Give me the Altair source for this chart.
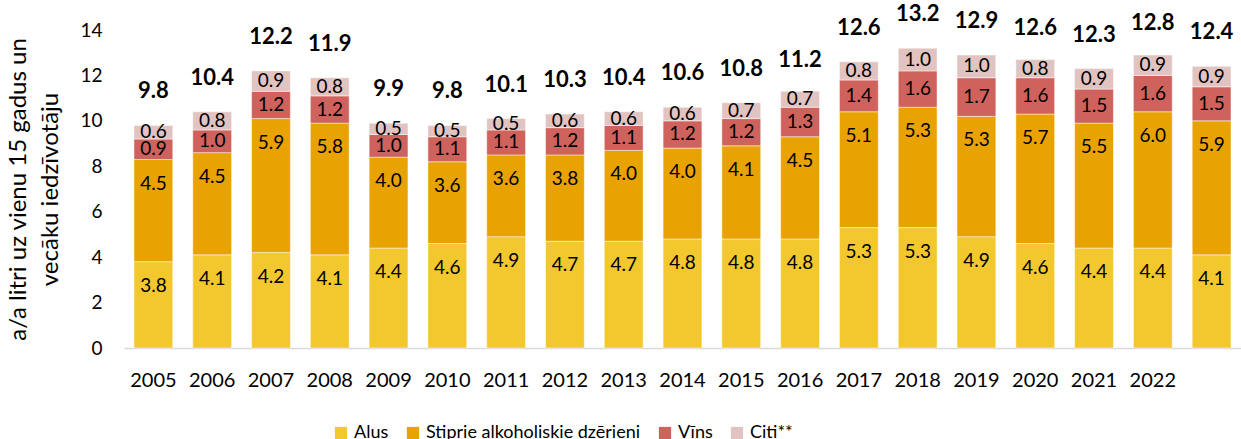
import altair as alt
import pandas as pd

years = ["2005", "2006", "2007", "2008", "2009", "2010", "2011", "2012", "2013", "2014",
         "2015", "2016", "2017", "2018", "2019", "2020", "2021", "2022", " "]
alus = [3.8, 4.1, 4.2, 4.1, 4.4, 4.6, 4.9, 4.7, 4.7, 4.8, 4.8, 4.8, 5.3, 5.3, 4.9, 4.6, 4.4, 4.4, 4.1]
stiprie = [4.5, 4.5, 5.9, 5.8, 4.0, 3.6, 3.6, 3.8, 4.0, 4.0, 4.1, 4.5, 5.1, 5.3, 5.3, 5.7, 5.5, 6.0, 5.9]
vins = [0.9, 1.0, 1.2, 1.2, 1.0, 1.1, 1.1, 1.2, 1.1, 1.2, 1.2, 1.3, 1.4, 1.6, 1.7, 1.6, 1.5, 1.6, 1.5]
citi = [0.6, 0.8, 0.9, 0.8, 0.5, 0.5, 0.5, 0.6, 0.6, 0.6, 0.7, 0.7, 0.8, 1.0, 1.0, 0.8, 0.9, 0.9, 0.9]
totals = [9.8, 10.4, 12.2, 11.9, 9.9, 9.8, 10.1, 10.3, 10.4, 10.6, 10.8, 11.2, 12.6, 13.2, 12.9, 12.6, 12.3, 12.8, 12.4]

categories = ["Alus", "Stiprie alkoholiskie dzērieni", "Vīns", "Citi**"]
colors = ["#F2C82E", "#E8A202", "#CF625C", "#E1C3C1"]
series = [alus, stiprie, vins, citi]

rows = []
for ci, (cat, vals) in enumerate(zip(categories, series)):
    for y, v in zip(years, vals):
        rows.append({"year": y, "cat": cat, "value": v, "ord": ci})
df = pd.DataFrame(rows)
tot_df = pd.DataFrame({"year": years, "total": totals})

FONT = "Lato"

x_enc = alt.X("year:N", sort=years,
              scale=alt.Scale(paddingInner=0.34, paddingOuter=0.17),
              axis=alt.Axis(title=None, labelAngle=0, labelFontSize=20, labelPadding=22,
                            labelColor="#000000", ticks=False, domainColor="#D9D9D9",
                            domainWidth=1.5, labelFont=FONT))
y_scale = alt.Scale(domain=[0, 14], nice=False)

base = alt.Chart(df).transform_stack(
    stack="value", groupby=["year"], as_=["y0", "y1"], sort=[alt.SortField("ord", order="ascending")]
)

bars = base.mark_bar(stroke="#FFFFFF", strokeWidth=0.8, strokeOpacity=0.6).encode(
    x=x_enc,
    y=alt.Y("y0:Q", scale=y_scale,
            axis=alt.Axis(title=["a/a litri uz vienu 15 gadus un", "vecāku iedzīvotāju"],
                          values=[0, 2, 4, 6, 8, 10, 12, 14], grid=False, domain=False,
                          ticks=False, labelFontSize=19, labelPadding=22, labelColor="#000000",
                          labelFont=FONT, titleFont=FONT, titleFontSize=24, titleFontWeight="normal",
                          titleColor="#000000", titleX=-94, titleLineHeight=32)),
    y2="y1:Q",
    color=alt.Color("cat:N", sort=categories,
                    scale=alt.Scale(domain=categories, range=colors),
                    legend=alt.Legend(title=None, orient="none", direction="horizontal",
                                      legendX=208, legendY=394, columns=4, padding=0,
                                      symbolType="square", symbolSize=150, symbolStrokeWidth=0,
                                      labelFontSize=18, labelFont=FONT, labelColor="#000000",
                                      labelLimit=400,
                                      labelOffset=4, columnPadding=15, symbolOpacity=1)),
)

seg_labels = base.transform_calculate(
    ly="datum.y1 - min(1.06, (datum.y1 - datum.y0) / 2)"
).mark_text(font=FONT, fontSize=19, color="#000000", baseline="middle").encode(
    x=alt.X("year:N", sort=years),
    y=alt.Y("ly:Q", scale=y_scale),
    text=alt.Text("value:Q", format=".1f"),
)

tot_labels = alt.Chart(tot_df).mark_text(
    font=FONT, fontSize=22, fontWeight="bold", color="#000000", baseline="middle", dy=-34
).encode(
    x=alt.X("year:N", sort=years),
    y=alt.Y("total:Q", scale=y_scale),
    text=alt.Text("total:Q", format=".1f"),
)

chart = alt.layer(bars, seg_labels, tot_labels).properties(
    width=1117, height=318,
    autosize=alt.AutoSizeParams(type="none"),
    padding={"left": 124, "top": 30, "right": 0, "bottom": 91},
    background="#FFFFFF",
).configure_view(stroke=None)

chart.save("out.html", embed_options={"renderer": "svg", "actions": False})
